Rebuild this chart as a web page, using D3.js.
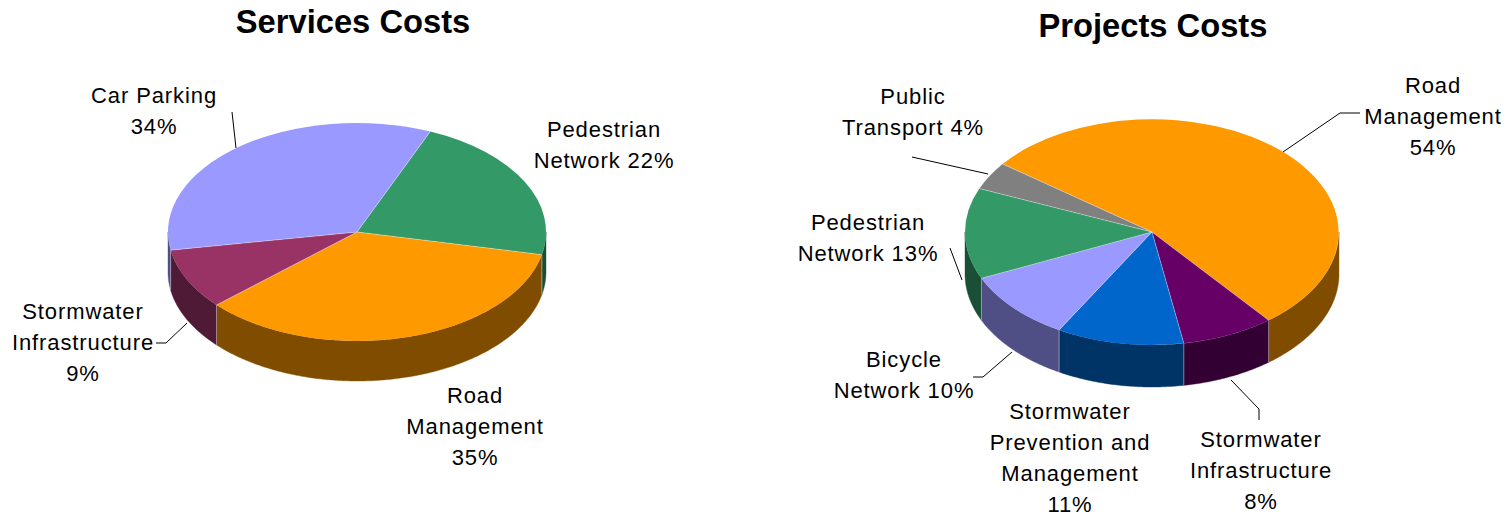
<!DOCTYPE html>
<html><head><meta charset="utf-8">
<script src="https://cdn.jsdelivr.net/npm/d3@7/dist/d3.min.js"></script>
<style>html,body{margin:0;padding:0;background:#fff;overflow:hidden}svg{display:block}text{font-family:"Liberation Sans",Arial,sans-serif;fill:#000}</style>
</head><body><svg id="c" width="1510" height="516"></svg>
<script>
const servicesCategories=["Pedestrian Network","Road Management","Stormwater Infrastructure","Car Parking"];
const servicesValues=[22,35,9,34];
const servicesColors=["#339966","#ff9900","#993366","#9999ff"];
const servicesWall=["#1a4f35","#804d00","#4f1a35","#4f4f85"];
const projectsCategories=["Road Management","Stormwater Infrastructure","Stormwater Prevention and Management","Bicycle Network","Pedestrian Network","Public Transport"];
const projectsValues=[54,8,11,10,13,4];
const projectsColors=["#ff9900","#660066","#0066cc","#9999ff","#339966","#808080"];
const projectsWall=["#804d00","#330033","#003366","#4f4f85","#1a4f35","#404040"];

const svg=d3.select("#c");
const deg=Math.PI/180;
function pie3d(o){
  const g=svg.append("g");
  const x=d3.scaleLinear([-1,1],[o.cx-o.rx,o.cx+o.rx]);
  const y=d3.scaleLinear([-1,1],[o.cy-o.ry,o.cy+o.ry]);
  const slices=d3.pie().sort(null).startAngle(o.start*deg).endAngle((o.start+360)*deg).value(d=>d)(o.values);
  const wall=d3.area().x(a=>x(Math.sin(a))).y0(a=>y(-Math.cos(a))).y1(a=>y(-Math.cos(a))+o.depth);
  const line=d3.line();
  slices.forEach((s,i)=>{
    for(const k of [-2,0,2]){
      const lo=Math.max(s.startAngle,Math.PI/2+k*Math.PI),hi=Math.min(s.endAngle,1.5*Math.PI+k*Math.PI);
      if(hi<=lo)continue;
      const n=Math.ceil((hi-lo)/0.01);
      const angles=d3.range(n+1).map(j=>lo+(hi-lo)*j/n);
      g.append("path").attr("d",wall(angles)).attr("fill",o.wall[i]).attr("stroke",o.wall[i]).attr("stroke-width",0.4);
    }
  });
  const arc=d3.arc().innerRadius(0).outerRadius(1);
  g.selectAll("path.top").data(slices).join("path").attr("class","top")
    .attr("transform",`translate(${o.cx},${o.cy}) scale(${o.rx},${o.ry})`)
    .attr("d",arc).attr("fill",(d,i)=>o.colors[i]);
  // light seams between slices, on the top face and down the visible wall
  slices.forEach(s=>{
    const a=s.startAngle, px=x(Math.sin(a)), py=y(-Math.cos(a));
    g.append("path").attr("d",line([[o.cx,o.cy],[px,py]])).attr("stroke","#fff").attr("stroke-opacity",0.35).attr("fill","none");
    if(Math.cos(a)<0) g.append("path").attr("d",line([[px,py],[px,py+o.depth]])).attr("stroke","#fff").attr("stroke-opacity",0.4).attr("fill","none");
  });
  g.selectAll("path.lead").data(o.leaders).join("path").attr("class","lead")
    .attr("d",d=>line(d)).attr("fill","none").attr("stroke","#000").attr("stroke-width",1);
  const t=svg.append("g");
  o.labels.forEach(l=>{
    l.lines.forEach((s,i)=>{
      t.append("text").attr("x",l.x).attr("y",l.y+i*31).attr("text-anchor","middle")
       .attr("font-size",22).attr("letter-spacing",0.9).text(s);
    });
  });
  svg.append("text").attr("x",o.tx).attr("y",o.ty).attr("text-anchor","middle")
    .attr("font-size",32.7).attr("font-weight","bold").text(o.title);
}
pie3d({cx:357,cy:232,rx:189,ry:109,depth:40,start:22.8,values:servicesValues,colors:servicesColors,wall:servicesWall,
 title:"Services Costs",tx:353,ty:33,
 leaders:[[[232,112],[236,148]],[[156,343],[166,343],[187,323]]],
 labels:[{x:154,y:103,lines:["Car Parking","34%"]},{x:604,y:137,lines:["Pedestrian","Network 22%"]},
 {x:475,y:403,lines:["Road","Management","35%"]},{x:83,y:319,lines:["Stormwater","Infrastructure","9%"]}]});
pie3d({cx:1152,cy:232,rx:187,ry:113,depth:42,start:-53,values:projectsValues,colors:projectsColors,wall:projectsWall,
 title:"Projects Costs",tx:1153,ty:37,
 leaders:[[[1360,113],[1340,113],[1283,152]],[[1231,380],[1259,409],[1259,420]],[[1012,352],[983,377],[973,377]],[[962,280],[950,248]],[[988,174],[912,157]]],
 labels:[{x:1433,y:93,lines:["Road","Management","54%"]},{x:1261,y:447,lines:["Stormwater","Infrastructure","8%"]},
 {x:1070,y:419,lines:["Stormwater","Prevention and","Management","11%"]},{x:904,y:367,lines:["Bicycle","Network 10%"]},
 {x:868,y:230,lines:["Pedestrian","Network 13%"]},{x:913,y:104,lines:["Public","Transport 4%"]}]});
</script></body></html>
